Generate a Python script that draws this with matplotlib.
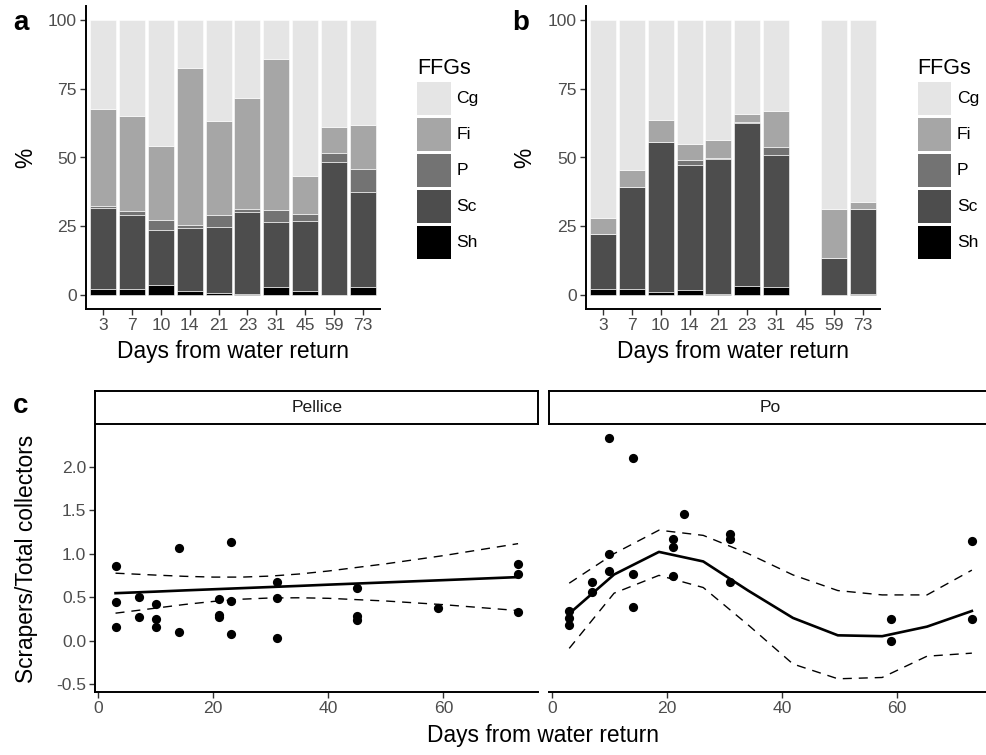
import numpy as np
import matplotlib.pyplot as plt
from matplotlib.patches import Rectangle

plt.rcParams['font.family'] = ['Liberation Sans', 'DejaVu Sans']
plt.rcParams['axes.unicode_minus'] = False

# --- bar panels (a: Pellice, b: Po), % of each FFG per sampling day ---
days = ['3', '7', '10', '14', '21', '23', '31', '45', '59', '73']
ffgs = ['Sh', 'Sc', 'P', 'Fi', 'Cg']
ffg_colors = {'Sh': '#000000', 'Sc': '#4D4D4D', 'P': '#737373',
              'Fi': '#A6A6A6', 'Cg': '#E5E5E5'}

pel_sh = [2.0, 2.2, 3.6, 1.6, 0.6, 0.2, 2.8, 1.5, 0.0, 3.0]
pel_sc = [29.5, 26.8, 20.2, 22.9, 24.1, 30.1, 23.6, 25.3, 48.2, 34.6]
pel_p = [1.0, 1.7, 3.4, 1.0, 4.3, 1.1, 4.4, 2.7, 3.6, 8.2]
pel_fi = [35.0, 34.3, 27.0, 56.9, 34.4, 40.1, 55.2, 13.8, 9.2, 16.0]
pel_cg = [32.5, 35.0, 45.8, 17.6, 36.6, 28.5, 14.0, 56.7, 39.0, 38.2]

po_sh = [2.0, 2.3, 1.0, 1.7, 0.3, 3.4, 2.9, 0.0, 0.0, 0.3]
po_sc = [20.3, 36.9, 54.6, 45.6, 49.3, 59.1, 48.0, 0.0, 13.5, 31.1]
po_p = [0.0, 0.0, 0.0, 1.7, 0.4, 0.3, 3.0, 0.0, 0.0, 0.0]
po_fi = [5.8, 6.3, 8.0, 5.9, 6.4, 2.9, 12.9, 0.0, 17.7, 2.3]
po_cg = [71.9, 54.5, 36.4, 45.1, 43.6, 34.3, 33.2, 0.0, 68.8, 66.3]

# --- panel c: scrapers / total collectors ---
pel_x = [3, 3, 3, 7, 7, 10, 10, 10, 14, 14, 21, 21, 21, 23, 23, 23,
         31, 31, 31, 45, 45, 45, 59, 73, 73, 73]
pel_y = [0.86, 0.44, 0.16, 0.50, 0.27, 0.42, 0.25, 0.16, 1.07, 0.10,
         0.48, 0.29, 0.27, 1.13, 0.46, 0.07, 0.67, 0.49, 0.03, 0.60,
         0.28, 0.24, 0.37, 0.88, 0.76, 0.33]
pel_fit_x = [3, 10, 15, 20, 25, 30, 35, 40, 50, 60, 73]
pel_fit = [0.545, 0.563, 0.577, 0.590, 0.603, 0.616, 0.629, 0.643, 0.669, 0.695, 0.730]
pel_hi = [0.775, 0.753, 0.739, 0.730, 0.730, 0.742, 0.766, 0.800, 0.883, 0.977, 1.115]
pel_lo = [0.315, 0.373, 0.415, 0.450, 0.476, 0.490, 0.492, 0.486, 0.455, 0.413, 0.345]

po_x = [3, 3, 3, 7, 7, 10, 10, 10, 14, 14, 14, 21, 21, 21, 23,
        31, 31, 31, 59, 59, 73, 73]
po_y = [0.34, 0.26, 0.18, 0.67, 0.56, 2.33, 1.00, 0.80, 2.10, 0.77, 0.39,
        1.17, 1.08, 0.74, 1.46, 1.23, 1.17, 0.67, 0.25, 0.00, 1.15, 0.25]
po_fit_x = [3, 10.8, 18.6, 26.3, 34.1, 41.9, 49.7, 57.4, 65.2, 73]
po_fit = [0.31, 0.76, 1.02, 0.91, 0.575, 0.26, 0.06, 0.05, 0.16, 0.34]
po_hi = [0.66, 1.00, 1.27, 1.21, 1.00, 0.755, 0.575, 0.525, 0.525, 0.81]
po_lo = [-0.09, 0.545, 0.75, 0.61, 0.18, -0.27, -0.44, -0.425, -0.18, -0.145]

W, H = 986, 755
fig = plt.figure(figsize=(W / 100, H / 100), dpi=100)

TICK_C = '#4D4D4D'
TITLE_FS = 16.4


def px_axes(l, t, r, b):
    return fig.add_axes([l / W, 1 - b / H, (r - l) / W, (b - t) / H])


def style_axes(ax):
    for s in ['top', 'right']:
        ax.spines[s].set_visible(False)
    for s in ['left', 'bottom']:
        ax.spines[s].set_linewidth(1.4)
    ax.tick_params(length=4, width=1, color='#333333', labelcolor=TICK_C,
                   labelsize=12.6, pad=2.5)


def ffg_legend(x0):
    # ggplot-like legend: title then stacked square keys
    fig.text(x0 / W, 1 - 73.5 / H, 'FFGs', fontsize=15.5, va='baseline')
    for i, name in enumerate(ffgs[::-1]):
        top = 82.3 + 36 * i
        fig.patches.append(Rectangle((x0 / W, 1 - (top + 32.5) / H),
                                     33.4 / W, 32.5 / H,
                                     facecolor=ffg_colors[name],
                                     edgecolor='none',
                                     transform=fig.transFigure))
        fig.text((x0 + 39) / W, 1 - (top + 16.3) / H, name,
                 fontsize=12.6, va='center')


def bar_panel(ax, parts, tag, leg_x):
    x = np.arange(1, len(days) + 1)
    bottom = np.zeros(len(days))
    for name, vals in zip(ffgs, parts):
        ax.bar(x, vals, 0.9, bottom=bottom, color=ffg_colors[name],
               edgecolor='white', linewidth=0.4)
        bottom += np.array(vals)
    ax.set_xlim(0.4, 10.6)
    ax.set_ylim(-5, 105)
    ax.set_xticks(x)
    ax.set_xticklabels(days)
    ax.set_yticks([0, 25, 50, 75, 100])
    style_axes(ax)
    ax.set_xlabel('Days from water return', fontsize=TITLE_FS, labelpad=5)
    ax.set_ylabel('%', fontsize=TITLE_FS, labelpad=8)
    ffg_legend(leg_x)
    fig.text(ax.get_position().x0 - 73 / W, 1 - 30 / H, tag,
             fontsize=20, fontweight='bold', va='baseline')


ax_a = px_axes(86, 6.25, 380, 308.75)
bar_panel(ax_a, [pel_sh, pel_sc, pel_p, pel_fi, pel_cg], 'a', 417.3)
ax_b = px_axes(585.7, 6.25, 880, 308.75)
bar_panel(ax_b, [po_sh, po_sc, po_p, po_fi, po_cg], 'b', 917.7)

# --- panel c ---
ax_pel = px_axes(95.4, 425, 538.2, 692)
ax_po = px_axes(549.1, 425, 992, 692)
for ax, xs, ys, fx, fy, lo, hi, name in [
        (ax_pel, pel_x, pel_y, pel_fit_x, pel_fit, pel_lo, pel_hi, 'Pellice'),
        (ax_po, po_x, po_y, po_fit_x, po_fit, po_lo, po_hi, 'Po')]:
    ax.scatter(xs, ys, s=44, color='black', zorder=3, linewidths=0)
    ax.plot(fx, fy, color='black', lw=1.9, zorder=4)
    ax.plot(fx, lo, color='black', lw=1.0, dashes=(6.5, 5), zorder=4)
    ax.plot(fx, hi, color='black', lw=1.0, dashes=(6.5, 5), zorder=4)
    ax.set_xlim(-0.5, 76.5)
    ax.set_ylim(-0.592, 2.48)
    ax.set_xticks([0, 20, 40, 60])
    ax.set_yticks([-0.5, 0.0, 0.5, 1.0, 1.5, 2.0])
    ax.set_yticklabels(['-0.5', '0.0', '0.5', '1.0', '1.5', '2.0'])
    style_axes(ax)
    pos = ax.get_position()
    strip = fig.add_axes([pos.x0, 1 - 424 / H, pos.width, 33 / H])
    strip.set_xticks([])
    strip.set_yticks([])
    for s in strip.spines.values():
        s.set_linewidth(1.4)
    strip.text(0.5, 0.5, name, ha='center', va='center', fontsize=12.6,
               color='#1A1A1A', transform=strip.transAxes)

ax_po.spines['left'].set_visible(False)
ax_po.tick_params(axis='y', left=False, labelleft=False)
ax_pel.set_ylabel('Scrapers/Total collectors', fontsize=TITLE_FS, labelpad=13)
fig.text(543 / W, 1 - 742 / H, 'Days from water return', fontsize=TITLE_FS,
         ha='center', va='baseline')
fig.text(13 / W, 1 - 413 / H, 'c', fontsize=20, fontweight='bold',
         va='baseline')

fig.savefig('out.png', dpi=100)
